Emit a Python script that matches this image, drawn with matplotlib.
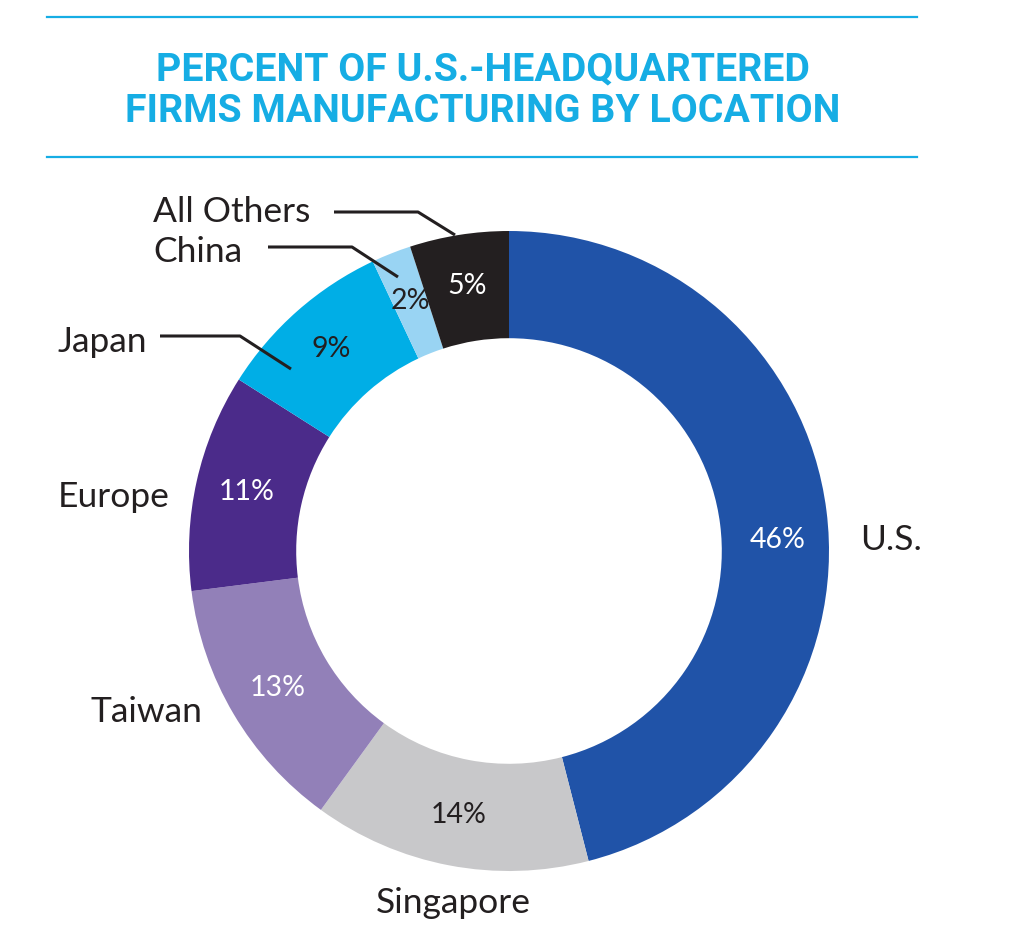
import numpy as np
import matplotlib.pyplot as plt

# Dados do gráfico
locais = ['U.S.', 'Singapore', 'Taiwan', 'Europe', 'Japan', 'China', 'All Others']
valores = [46, 14, 13, 11, 9, 2, 5]
cores = ['#2053A8', '#C8C8CA', '#9280B8', '#4B2B8A', '#00AEE6', '#99D4F3', '#231F20']
cor_pct = ['white', '#231F20', 'white', 'white', '#231F20', '#231F20', 'white']

titulo = ['PERCENT OF U.S.-HEADQUARTERED', 'FIRMS MANUFACTURING BY LOCATION']
azul = '#16ADE4'

W, H = 1024, 944
fig = plt.figure(figsize=(W / 100, H / 100), dpi=100)
ax = fig.add_axes([0, 0, 1, 1])

# centro e raio em pixels (y para cima)
cx, cy, R = 509, H - 551, 320
wedges, _ = ax.pie(valores, colors=cores, startangle=90, counterclock=False,
                   center=(cx, cy), radius=R,
                   wedgeprops=dict(width=R * 0.335, linewidth=0))
ax.set_xlim(0, W)
ax.set_ylim(0, H)
ax.set_aspect('equal')
ax.axis('off')

# Rótulos de porcentagem
desvio = {'U.S.': -4.9}
for w, nome, v, c in zip(wedges, locais, valores, cor_pct):
    ang = np.deg2rad((w.theta1 + w.theta2) / 2 + desvio.get(nome, 0))
    r = R * 0.84
    ax.text(cx + r * np.cos(ang), cy + r * np.sin(ang), f'{v}%', color=c,
            ha='center', va='center', fontsize=20.5, family='Lato')

# Nomes das categorias
fonte = dict(fontsize=25.5, family='Lato', color='#231F20', va='center')
ax.text(860, H - 540, 'U.S.', ha='left', **fonte)
ax.text(453, H - 903, 'Singapore', ha='center', **fonte)
ax.text(202, H - 712, 'Taiwan', ha='right', **fonte)
ax.text(170, H - 497, 'Europe', ha='right', **fonte)
ax.text(147, H - 342, 'Japan', ha='right', **fonte)
ax.text(153, H - 252, 'China', ha='left', **fonte)
ax.text(153, H - 212, 'All Others', ha='left', **fonte)

# Linhas de chamada
linhas = [
    [(160, 336), (240, 336), (291, 369)],
    [(268, 247), (352, 247), (398, 277)],
    [(334, 212), (418, 212), (455, 235)],
]
for pts in linhas:
    xs = [p[0] for p in pts]
    ys = [H - p[1] for p in pts]
    ax.plot(xs, ys, color='#231F20', lw=2.2, solid_capstyle='butt')

# Título e linhas azuis
ax.plot([47, 917], [H - 17, H - 17], color=azul, lw=1.6)
ax.plot([47, 917], [H - 157, H - 157], color=azul, lw=1.6)
for linha, y in zip(titulo, [80, 122]):
    ax.text(483, H - y, linha, ha='center', va='baseline', color=azul,
            fontsize=28.3, fontweight='bold', family='Roboto')

fig.savefig('out.png', dpi=100)
